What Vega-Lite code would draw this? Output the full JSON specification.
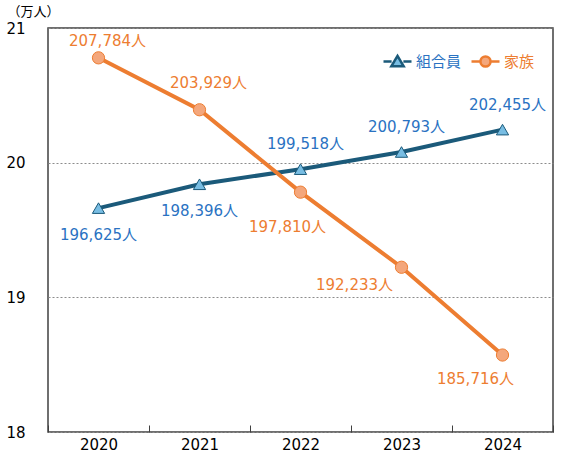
{
  "$schema": "https://vega.github.io/schema/vega-lite/v6.json",
  "width": 505,
  "height": 404,
  "autosize": {"type": "none"},
  "padding": {"left": 48, "top": 28, "right": 10, "bottom": 36},
  "data": {
    "values": [
      {"year": "2020", "series": "組合員", "value": 19.6625, "label": "196,625人"},
      {"year": "2021", "series": "組合員", "value": 19.8396, "label": "198,396人"},
      {"year": "2022", "series": "組合員", "value": 19.9518, "label": "199,518人"},
      {"year": "2023", "series": "組合員", "value": 20.0793, "label": "200,793人"},
      {"year": "2024", "series": "組合員", "value": 20.2455, "label": "202,455人"},
      {"year": "2020", "series": "家族", "value": 20.7784, "label": "207,784人"},
      {"year": "2021", "series": "家族", "value": 20.3929, "label": "203,929人"},
      {"year": "2022", "series": "家族", "value": 19.781, "label": "197,810人"},
      {"year": "2023", "series": "家族", "value": 19.2233, "label": "192,233人"},
      {"year": "2024", "series": "家族", "value": 18.5716, "label": "185,716人"}
    ]
  },
  "encoding": {
    "x": {
      "field": "year",
      "type": "ordinal",
      "scale": {"type": "band", "paddingInner": 0, "paddingOuter": 0},
      "axis": {
        "title": null,
        "labelAngle": 0,
        "labelFontSize": 15,
        "labelColor": "#000000",
        "labelPadding": 12,
        "tickBand": "extent",
        "tickSize": -7,
        "tickColor": "#404040",
        "domain": false,
        "grid": false
      }
    },
    "y": {
      "field": "value",
      "type": "quantitative",
      "scale": {"domain": [18, 21], "nice": false, "zero": false},
      "axis": {
        "values": [18, 19, 20, 21],
        "title": "（万人）",
        "titleAngle": 0,
        "titleAlign": "left",
        "titleBaseline": "middle",
        "titleX": -41,
        "titleY": -17,
        "titleFontSize": 13,
        "titleFontWeight": "normal",
        "titleColor": "#000000",
        "labelFontSize": 15,
        "labelColor": "#000000",
        "labelPadding": 23,
        "domain": false,
        "ticks": false,
        "grid": true,
        "gridDash": [2, 2],
        "gridColor": "#8c8c8c"
      }
    }
  },
  "layer": [
    {
      "transform": [{"filter": "datum.series === '組合員'"}],
      "layer": [
        {
          "mark": {"type": "line", "strokeWidth": 4},
          "encoding": {
            "stroke": {
              "field": "series",
              "type": "nominal",
              "scale": {"range": ["#1b5a7a"]},
              "legend": {
                "title": null,
                "orient": "none",
                "legendX": 334,
                "legendY": 18,
                "labelFontSize": 15,
                "labelOffset": 3,
                "labelColor": "#2a72c2",
                "symbolSize": 784,
                "symbolType": "M-1,0L-0.42,0M0.42,0L1,0M0,-0.4L0.44,0.34L-0.44,0.34Z",
                "symbolFillColor": "#78bde3",
                "symbolStrokeWidth": 2.5
              }
            }
          }
        },
        {
          "mark": {"type": "point", "filled": true, "shape": "triangle-up", "size": 150, "strokeWidth": 1, "opacity": 1, "fill": "#78bde3", "stroke": "#1b5a7a"}
        },
        {
          "transform": [{"filter": "datum.year >= '2022'"}],
          "mark": {"type": "text", "fontSize": 15, "dx": 5, "dy": -25, "color": "#2a72c2"},
          "encoding": {"text": {"field": "label"}}
        },
        {
          "transform": [{"filter": "datum.year < '2022'"}],
          "mark": {"type": "text", "fontSize": 15, "dx": 0, "dy": 27, "color": "#2a72c2"},
          "encoding": {"text": {"field": "label"}}
        }
      ]
    },
    {
      "transform": [{"filter": "datum.series === '家族'"}],
      "layer": [
        {
          "mark": {"type": "line", "strokeWidth": 4},
          "encoding": {
            "stroke": {
              "field": "series",
              "type": "nominal",
              "scale": {"range": ["#ed7d31"]},
              "legend": {
                "title": null,
                "orient": "none",
                "legendX": 422,
                "legendY": 18,
                "labelFontSize": 15,
                "labelOffset": 3,
                "labelColor": "#ed7d31",
                "symbolSize": 784,
                "symbolType": "M-1,0L-0.38,0M0.38,0L1,0M0.36,0A0.36,0.36,0,1,1,-0.36,0A0.36,0.36,0,1,1,0.36,0Z",
                "symbolFillColor": "#f4a77c",
                "symbolStrokeWidth": 2.5
              }
            }
          }
        },
        {
          "mark": {"type": "point", "filled": true, "shape": "circle", "size": 150, "strokeWidth": 1, "opacity": 1, "fill": "#f4a77c", "stroke": "#ed7d31"}
        },
        {
          "transform": [{"filter": "datum.year === '2020'"}],
          "mark": {"type": "text", "fontSize": 15, "dx": 9, "dy": -17, "color": "#ed7d31"},
          "encoding": {"text": {"field": "label"}}
        },
        {
          "transform": [{"filter": "datum.year === '2021'"}],
          "mark": {"type": "text", "fontSize": 15, "dx": 9, "dy": -27, "color": "#ed7d31"},
          "encoding": {"text": {"field": "label"}}
        },
        {
          "transform": [{"filter": "datum.year === '2022'"}],
          "mark": {"type": "text", "fontSize": 15, "dx": -13, "dy": 35, "color": "#ed7d31"},
          "encoding": {"text": {"field": "label"}}
        },
        {
          "transform": [{"filter": "datum.year === '2023'"}],
          "mark": {"type": "text", "fontSize": 15, "dx": -47, "dy": 18, "color": "#ed7d31"},
          "encoding": {"text": {"field": "label"}}
        },
        {
          "transform": [{"filter": "datum.year === '2024'"}],
          "mark": {"type": "text", "fontSize": 15, "dx": -27, "dy": 24, "color": "#ed7d31"},
          "encoding": {"text": {"field": "label"}}
        }
      ]
    }
  ],
  "resolve": {"scale": {"stroke": "independent"}},
  "config": {
    "font": "DejaVu Sans, Noto Sans CJK JP",
    "view": {"stroke": "#404040", "strokeWidth": 1.5},
    "axis": {"labelFont": "DejaVu Sans, Noto Sans CJK JP", "titleFont": "Noto Sans CJK JP"},
    "legend": {"labelFont": "DejaVu Sans, Noto Sans CJK JP"},
    "text": {"font": "DejaVu Sans, Noto Sans CJK JP"}
  }
}
